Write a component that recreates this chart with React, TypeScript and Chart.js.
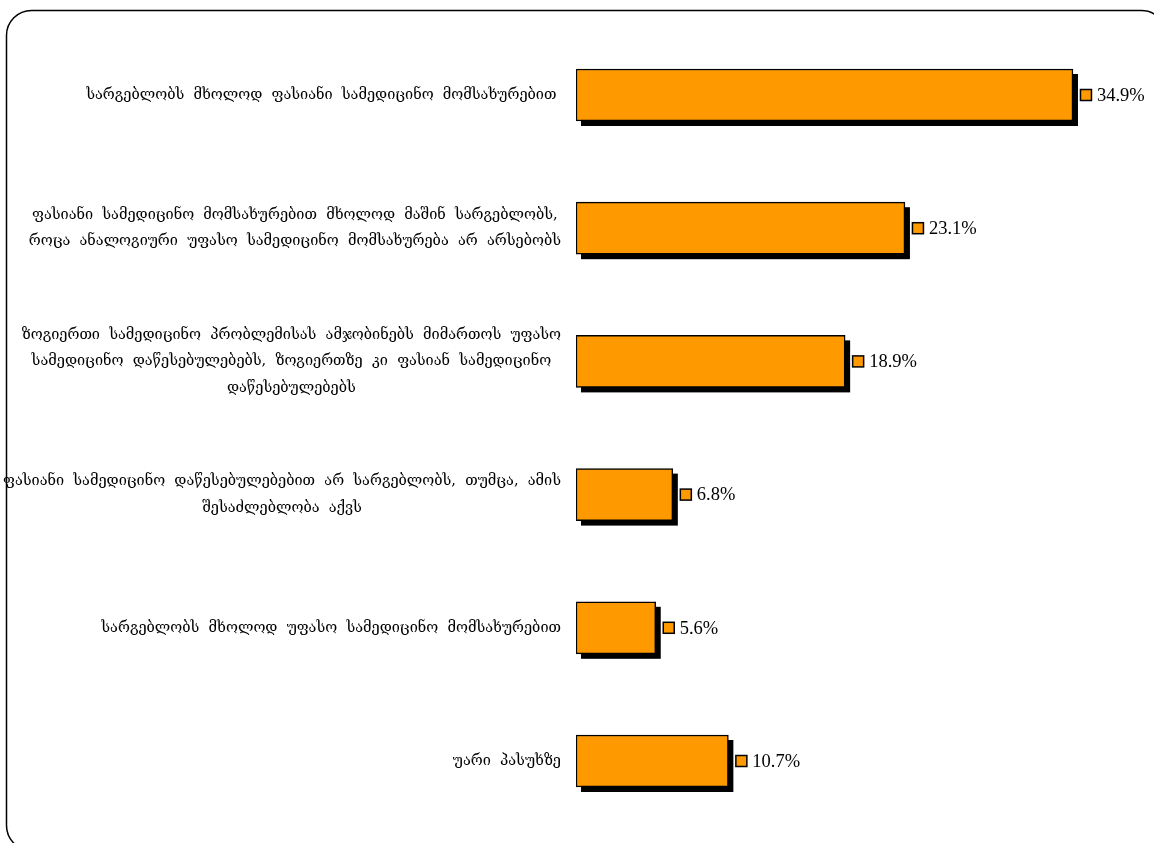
import React, { useEffect, useRef } from "react";
import { Chart, registerables } from "chart.js";

Chart.register(...registerables);

const categories: string[][] = [
  ["სარგებლობს  მხოლოდ  ფასიანი  სამედიცინო  მომსახურებით "],
  [
    "ფასიანი  სამედიცინო  მომსახურებით  მხოლოდ  მაშინ  სარგებლობს,",
    "როცა  ანალოგიური  უფასო  სამედიცინო  მომსახურება  არ  არსებობს",
  ],
  [
    "ზოგიერთი  სამედიცინო  პრობლემისას  ამჯობინებს  მიმართოს  უფასო",
    "სამედიცინო  დაწესებულებებს,  ზოგიერთზე  კი  ფასიან  სამედიცინო",
    "დაწესებულებებს",
  ],
  [
    "ფასიანი  სამედიცინო  დაწესებულებებით  არ  სარგებლობს,  თუმცა,  ამის",
    "შესაძლებლობა  აქვს",
  ],
  ["სარგებლობს  მხოლოდ  უფასო  სამედიცინო  მომსახურებით"],
  ["უარი  პასუხზე"],
];

const values: number[] = [34.9, 23.1, 18.9, 6.8, 5.6, 10.7];
const valueLabels: string[] = ["34.9%", "23.1%", "18.9%", "6.8%", "5.6%", "10.7%"];

const W = 1154;
const H = 843;
const LABEL_FONT = '14.5px "DejaVu Serif"';
const VALUE_FONT = '18.5px "Liberation Serif"';

const decor = {
  id: "decor",
  beforeDraw(chart: any) {
    const ctx = chart.ctx;
    ctx.save();
    ctx.fillStyle = "#fff";
    ctx.fillRect(0, 0, chart.width, chart.height);
    ctx.beginPath();
    ctx.lineWidth = 1.5;
    ctx.strokeStyle = "#000";
    ctx.roundRect(6.5, 10.5, 1160, 840, 25);
    ctx.stroke();
    ctx.restore();
  },
  beforeDatasetsDraw(chart: any) {
    const ctx = chart.ctx;
    const meta = chart.getDatasetMeta(0);
    ctx.save();
    ctx.fillStyle = "#000";
    meta.data.forEach((bar: any) => {
      const h = bar.height;
      ctx.fillRect(bar.base + 5, bar.y - h / 2 + 5, bar.x - bar.base, h);
    });
    ctx.restore();
  },
  afterDatasetsDraw(chart: any) {
    const ctx = chart.ctx;
    const meta = chart.getDatasetMeta(0);
    const yScale = chart.scales.y;
    ctx.save();
    meta.data.forEach((bar: any, i: number) => {
      const sx = bar.x + 7.5;
      const sy = bar.y - 5.5;
      ctx.fillStyle = "#FF9900";
      ctx.fillRect(sx, sy, 11, 11);
      ctx.lineWidth = 1.5;
      ctx.strokeStyle = "#000";
      ctx.strokeRect(sx, sy, 11, 11);
      ctx.fillStyle = "#000";
      ctx.font = VALUE_FONT;
      ctx.textAlign = "left";
      ctx.textBaseline = "middle";
      ctx.fillText(valueLabels[i], bar.x + 24, bar.y + 1);
    });
    ctx.font = LABEL_FONT;
    ctx.fillStyle = "#000";
    ctx.textAlign = "center";
    ctx.textBaseline = "middle";
    const lineH = 26.5;
    categories.forEach((lines, i) => {
      const cy = yScale.getPixelForValue(i);
      const maxW = Math.max(...lines.map((l) => ctx.measureText(l).width));
      const cx = 561 - maxW / 2;
      lines.forEach((l, j) => {
        const y = cy + (j - (lines.length - 1) / 2) * lineH;
        ctx.fillText(l, cx, y);
      });
    });
    ctx.restore();
  },
};

export default function App() {
  const ref = useRef<HTMLCanvasElement | null>(null);
  useEffect(() => {
    if (!ref.current) return;
    const chart = new Chart(ref.current, {
      type: "bar",
      data: {
        labels: categories.map((c) => c.join(" ")),
        datasets: [
          {
            data: values,
            backgroundColor: "#FF9900",
            borderColor: "#000",
            borderWidth: 1.5,
            borderSkipped: false,
            barThickness: 52,
          },
        ],
      },
      options: {
        indexAxis: "y",
        responsive: false,
        animation: false,
        layout: { padding: { left: 576, right: 8.4, top: 28.4, bottom: 15.4 } },
        plugins: { legend: { display: false }, tooltip: { enabled: false } },
        scales: {
          x: { display: false, min: 0, max: 40 },
          y: { display: false },
        },
      },
      plugins: [decor],
    });
    return () => chart.destroy();
  }, []);
  return (
    <div style={{ position: "fixed", left: 0, top: 0, width: W, height: H, background: "#fff" }}>
      <canvas ref={ref} width={W} height={H} style={{ display: "block" }} />
    </div>
  );
}
